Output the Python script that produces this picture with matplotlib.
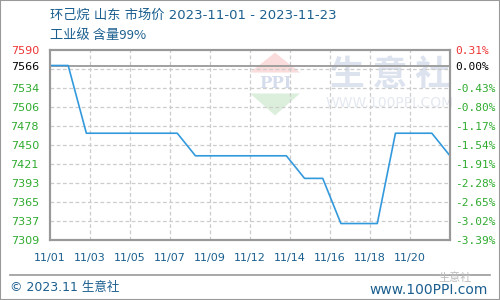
import numpy as np
import matplotlib
matplotlib.use("Agg")
import matplotlib.pyplot as plt
from matplotlib.patches import Polygon, Rectangle

plt.rcParams['font.family'] = ['DejaVu Sans', 'Noto Sans CJK SC']

# day index from 2023-11-01 .. 2023-11-23
days = list(range(23))
prices = [7566.67, 7566.67, 7466.67, 7466.67, 7466.67, 7466.67, 7466.67, 7466.67,
          7433.33, 7433.33, 7433.33, 7433.33, 7433.33, 7433.33, 7400.0, 7400.0,
          7333.33, 7333.33, 7333.33, 7466.67, 7466.67, 7466.67, 7433.33]

base = 7566
ymin, ymax = 7309, 7590
grid_step = (ymax - ymin) / 10.0

left_labels = ["7309", "7337", "7365", "7393", "7421", "7450", "7478", "7506", "7534", "7566", "7590"]
right_labels = ["-3.39%", "-3.02%", "-2.65%", "-2.28%", "-1.91%", "-1.54%", "-1.17%", "-0.80%",
                "-0.43%", "0.00%", "0.31%"]
x_labels = ["11/01", "11/03", "11/05", "11/07", "11/09", "11/12", "11/14", "11/16", "11/18", "11/20"]

title1 = "环己烷 山东 市场价 2023-11-01 - 2023-11-23"
title2 = "工业级 含量99%"

blue_txt = "#1b5f8f"
green = "#2eab2e"
red = "#ee3333"

fig = plt.figure(figsize=(5, 3), dpi=100)
fig.patches.append(Rectangle((0, 0), 1, 1, transform=fig.transFigure, fill=False,
                             edgecolor="#999999", linewidth=1.5))

ax = fig.add_axes([0.1, 0.2, 0.8, 0.6343])
ax.set_xlim(0, 22)
ax.set_ylim(ymin, ymax)

# watermark (logo + site name)
wm = dict(transform=ax.transAxes, zorder=0)
ax.add_patch(Polygon([[0.5625, 0.985], [0.5, 0.88], [0.625, 0.88]], closed=True,
                     facecolor="#fbdcdc", edgecolor="none", **wm))
ax.add_patch(Polygon([[0.5, 0.77], [0.625, 0.77], [0.5625, 0.655]], closed=True,
                     facecolor="#dcefdc", edgecolor="none", **wm))
ax.text(0.5625, 0.825, "PPI", ha="center", va="center", fontsize=12, fontweight="bold",
        family="DejaVu Serif", color="#d5dcec", **wm)
ax.text(0.85, 0.87, "生 意 社", ha="center", va="center", fontsize=25, color="#dce2ee",
        family=["Noto Sans CJK SC"], fontweight="bold", **wm)
ax.text(0.85, 0.72, "WWW.100PPI.COM", ha="center", va="center", fontsize=10, color="#e4e8f0", **wm)

# grid
for k in range(1, 10):
    ax.axhline(ymin + k * grid_step, color="#cccccc", linestyle=(0, (3, 2)), linewidth=0.9, zorder=1)
xticks = [22 * k / 10.0 for k in range(10)]
for xt in xticks[1:]:
    ax.axvline(xt, color="#cccccc", linestyle=(0, (3, 2)), linewidth=0.9, zorder=1)
ax.axhline(base, color="#999999", linewidth=1.3, zorder=2)

ax.plot(days, prices, color="#3399dd", linewidth=1.2, zorder=3)

yticks = [ymin + k * grid_step for k in range(9)] + [base, ymax]
ax.set_yticks(yticks)
ax.set_yticklabels(left_labels, fontsize=8)
ax.set_xticks(xticks)
ax.set_xticklabels(x_labels, fontsize=8, color=blue_txt)
ax.tick_params(length=0, pad=9)
ax.tick_params(axis="y", pad=8)
for i, lab in enumerate(ax.get_yticklabels()):
    lab.set_color(red if i == 10 else ("black" if i == 9 else green))

ax2 = ax.twinx()
ax2.set_ylim(ymin, ymax)
ax2.set_yticks(yticks)
ax2.set_yticklabels(right_labels, fontsize=8, family="DejaVu Sans Mono")
ax2.tick_params(length=0, pad=4)
for i, lab in enumerate(ax2.get_yticklabels()):
    lab.set_color(red if i == 10 else ("black" if i == 9 else green))

for a in (ax, ax2):
    for s in a.spines.values():
        s.set_color("#999999")
        s.set_linewidth(1.5)

fig.text(0.1, 0.95, title1, fontsize=9.5, color=blue_txt, va="center",
         family=["DejaVu Sans", "Noto Sans CJK SC"])
fig.text(0.1, 0.883, title2, fontsize=9.5, color=blue_txt, va="center",
         family=["Noto Sans CJK SC", "DejaVu Sans"])

fig.add_artist(plt.Line2D([0.02, 0.98], [0.083, 0.083], color="#999999", linewidth=1.2,
                          transform=fig.transFigure))
fig.text(0.02, 0.04, "© 2023.11 生意社", fontsize=9, color=blue_txt, va="center",
         family=["DejaVu Sans", "Noto Sans CJK SC"])
fig.text(0.975, 0.035, "www.100PPI.com", fontsize=10, color=blue_txt, va="center", ha="right")
fig.text(0.91, 0.075, "生意社", fontsize=8, color="#bbbbbb", va="center", ha="center",
         family=["Noto Sans CJK SC"])

fig.savefig("out.png", dpi=100)
